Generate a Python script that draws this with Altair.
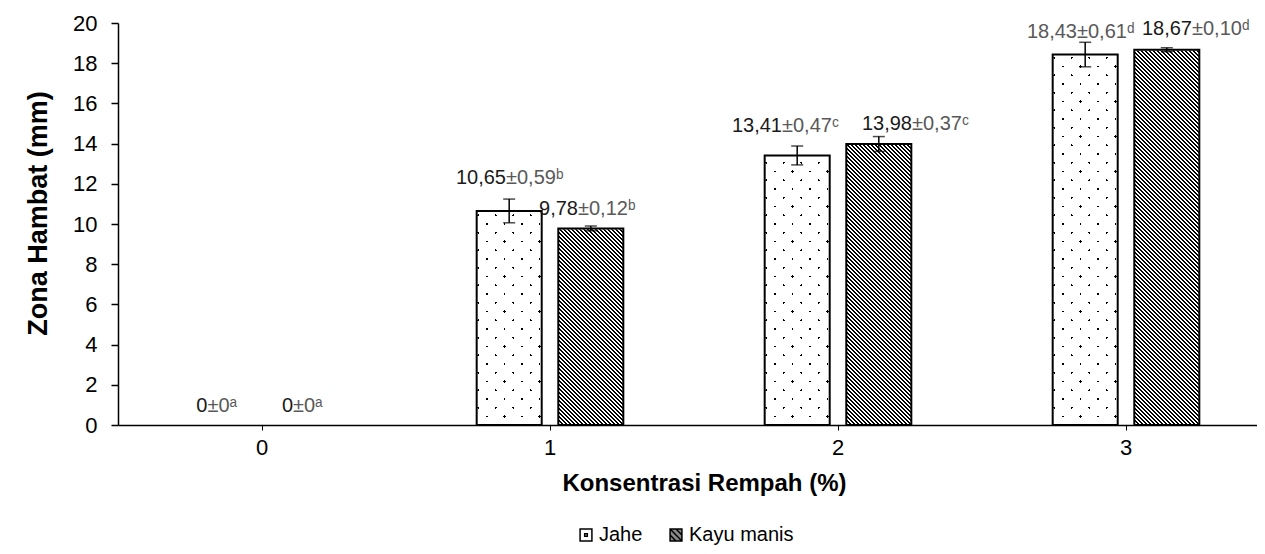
import math
import altair as alt
import pandas as pd

# ---------------- data ----------------
categories = ["0", "1", "2", "3"]
series_names = ["Jahe", "Kayu manis"]
jahe_mean = [0.0, 10.65, 13.41, 18.43]
jahe_sd = [0.0, 0.59, 0.47, 0.61]
jahe_letters = ["a", "b", "c", "d"]
kayu_mean = [0.0, 9.78, 13.98, 18.67]
kayu_sd = [0.0, 0.12, 0.37, 0.10]
kayu_letters = ["a", "b", "c", "d"]
y_ticks = [0, 2, 4, 6, 8, 10, 12, 14, 16, 18, 20]
Y_MAX = 20

# ---------------- label placement / styling (px offsets) ----------------
jahe_label_dx = [-13.7, -3.2, -15.2, -8.2]
jahe_label_dy = [-19.0, -32.9, -29.5, -22.6]
kayu_label_dx = [-9.8, -12.8, 33.2, 25.2]
kayu_label_dy = [-19.0, -19.4, -20.0, -20.7]
jahe_mean_color = ["#1a1a1a", "#1a1a1a", "#1a1a1a", "#595959"]
kayu_mean_color = ["#1a1a1a", "#1a1a1a", "#1a1a1a", "#1a1a1a"]

FONT = "Liberation Sans"
W, H = 1139, 402
X_SPAN = 1152
PI, PO = 0.2034, 0.866

SUP = {"a": "\u1d43", "b": "\u1d47", "c": "\u1d9c", "d": "\u1d48"}


def fmt(v):
    return "0" if v == 0 else f"{v:.2f}".replace(".", ",")


rows = []
for s_name, means, sds, letters, dxs, dys, mcols in [
    ("Jahe", jahe_mean, jahe_sd, jahe_letters, jahe_label_dx, jahe_label_dy, jahe_mean_color),
    ("Kayu manis", kayu_mean, kayu_sd, kayu_letters, kayu_label_dx, kayu_label_dy, kayu_mean_color),
]:
    for c, m, s, l, dx, dy, mc in zip(categories, means, sds, letters, dxs, dys, mcols):
        rows.append(dict(cat=c, series=s_name, value=m, sd=s, lo=m - s, hi=m + s,
                         mean_txt=fmt(m), rest_txt="\u00b1" + fmt(s) + SUP[l],
                         ldx=dx, ldy=dy, mcol=mc))
df = pd.DataFrame(rows)

# ---------------- hatch patterns as hard-stop gradients ----------------
step_x = X_SPAN / len(categories)
sub_step = step_x / (2 - PI + 2 * PO)
bar_w = sub_step * (1 - PI)
col_h = H


def stripes(w, h, direction, period_x, width_x, c_on, c_off, phase=0.0):
    k = (w + h) / (w * w + h * h)
    if direction == "down":      # "\" stripes
        x1, y1, x2, y2 = 0, 1, k * w, 1 - k * h
    else:                        # "/" stripes
        x1, y1, x2, y2 = 0, 0, k * w, k * h
    L = (w + h) / math.sqrt(2)
    p = period_x / math.sqrt(2)
    t = width_x / math.sqrt(2)
    stops = [{"offset": 0, "color": c_off}]
    s = phase
    while s < L:
        a = s / L
        b = min((s + t) / L, 1.0)
        stops += [{"offset": a, "color": c_off}, {"offset": a, "color": c_on},
                  {"offset": b, "color": c_on}, {"offset": b, "color": c_off}]
        s += p
    stops.append({"offset": 1, "color": c_off})
    return {"gradient": "linear", "x1": x1, "y1": y1, "x2": x2, "y2": y2, "stops": stops}


KAYU_FILL = stripes(bar_w, col_h, "down", 4.0, 2.0, "#000000", "#ffffff")
JAHE_FILL_A = stripes(bar_w, col_h, "up", 17.5, 2.6, "#000000", "#ffffff")
JAHE_FILL_B = stripes(bar_w, col_h, "down", 17.5, 2.6, "rgba(255,255,255,0)", "#ffffff")

# ---------------- encodings ----------------
x_axis = alt.Axis(title="Konsentrasi Rempah (%)", labelAngle=0, labelFont=FONT, labelFontSize=22,
                  labelColor="#000000", labelPadding=7, tickSize=5, tickColor="#000000", tickWidth=1,
                  domainColor="#000000", domainWidth=1.5, titleFont=FONT, titleFontSize=24,
                  titleFontWeight="bold", titleColor="#000000", titleX=586, titleY=58,
                  titleBaseline="middle", titleAlign="center", zindex=1)
y_axis = alt.Axis(title="Zona Hambat (mm)", values=y_ticks, grid=False, labelFont=FONT, labelFontSize=22,
                  labelColor="#000000", labelPadding=14, tickSize=7, tickColor="#000000", tickWidth=1.5,
                  domainColor="#000000", domainWidth=1.5, titleFont=FONT, titleFontSize=27,
                  titleFontWeight="bold", titleColor="#000000", titleX=-80, titleY=190,
                  titleBaseline="middle", titleAlign="center", zindex=1)

X = alt.X("cat:N", sort=categories, axis=x_axis,
          scale=alt.Scale(range=[0, X_SPAN], paddingInner=0, paddingOuter=0))
XO = alt.XOffset("series:N", sort=series_names, scale=alt.Scale(paddingInner=PI, paddingOuter=PO))
YS = alt.Scale(domain=[0, Y_MAX], nice=False, zero=True)


def Yf(field):
    return alt.Y(field, scale=YS, axis=y_axis)


base = alt.Chart(df)
nonzero = "datum.value > 0"


def column(series, fill):
    return base.transform_filter(nonzero).transform_filter(
        f"datum.series == '{series}'").transform_calculate(
        top=str(Y_MAX), zero_="0").mark_bar(fill=fill, strokeWidth=0).encode(
        x=X, xOffset=XO, y=Yf("top:Q"), y2=alt.Y2("zero_:Q"))


kayu_col = column("Kayu manis", KAYU_FILL)
jahe_col_a = column("Jahe", JAHE_FILL_A)
jahe_col_b = column("Jahe", JAHE_FILL_B)

cover = base.transform_filter(nonzero).transform_calculate(top=str(Y_MAX)).mark_bar(
    fill="#ffffff", stroke="#ffffff", strokeWidth=1.5).encode(
    x=X, xOffset=XO, y=Yf("value:Q"), y2=alt.Y2("top:Q"))

outline = base.transform_filter(nonzero).mark_bar(
    fillOpacity=0, stroke="#000000", strokeWidth=2).encode(x=X, xOffset=XO, y=Yf("value:Q"))

err = base.transform_filter("datum.sd > 0").mark_rule(color="#000000", strokeWidth=1.5).encode(
    x=X, xOffset=XO, y=Yf("lo:Q"), y2=alt.Y2("hi:Q"))
caps = base.transform_filter("datum.sd > 0").transform_fold(["lo", "hi"], as_=["end", "yv"]).mark_tick(
    color="#000000", size=12, thickness=1.5).encode(x=X, xOffset=XO, y=Yf("yv:Q"))

JAHE_SYM = "M-1,-1H1V1H-1Z M-0.22,-0.22H0.22V0.22H-0.22Z"
KAYU_SYM = "M-1,-1H1V1H-1Z M-1,-1L1,1 M-1,0L0,1 M0,-1L1,0"
leg = alt.Legend(title=None, orient="none", legendX=458, legendY=502, direction="horizontal",
                 labelFont=FONT, labelFontSize=20, labelColor="#000000", symbolSize=140,
                 symbolStrokeColor="#000000", symbolStrokeWidth=1.5, symbolOpacity=1,
                 labelOffset=3, columnPadding=23, padding=0)
legend_layer = base.transform_filter(nonzero).mark_point(opacity=0).encode(
    x=X, xOffset=XO, y=Yf("value:Q"),
    shape=alt.Shape("series:N", sort=series_names,
                    scale=alt.Scale(domain=series_names, range=[JAHE_SYM, KAYU_SYM]), legend=leg),
    fill=alt.Fill("series:N", sort=series_names,
                  scale=alt.Scale(domain=series_names, range=["#ffffff", "#8a8a8a"]), legend=leg),
    stroke=alt.Stroke("series:N", sort=series_names,
                      scale=alt.Scale(domain=series_names, range=["#000000", "#000000"]), legend=leg))

mean_text = base.mark_text(align="right", baseline="middle", font=FONT, fontSize=20,
                           dx={"expr": "datum.ldx"}, dy={"expr": "datum.ldy"}).encode(
    x=X, xOffset=XO, y=Yf("value:Q"), text="mean_txt:N", color=alt.Color("mcol:N", scale=None))
rest_text = base.mark_text(align="left", baseline="middle", font=FONT, fontSize=20, color="#595959",
                           dx={"expr": "datum.ldx"}, dy={"expr": "datum.ldy"}).encode(
    x=X, xOffset=XO, y=Yf("value:Q"), text="rest_txt:N")

chart = alt.layer(kayu_col, jahe_col_a, jahe_col_b, cover, outline, err, caps, legend_layer,
                  mean_text, rest_text).properties(
    width=W, height=H,
    autosize=alt.AutoSizeParams(type="none"),
    padding={"left": 110, "top": 15, "right": 0, "bottom": 121},
    background="#ffffff",
).configure_view(stroke=None)

chart.save("out.html", embed_options={"renderer": "svg", "actions": False})
